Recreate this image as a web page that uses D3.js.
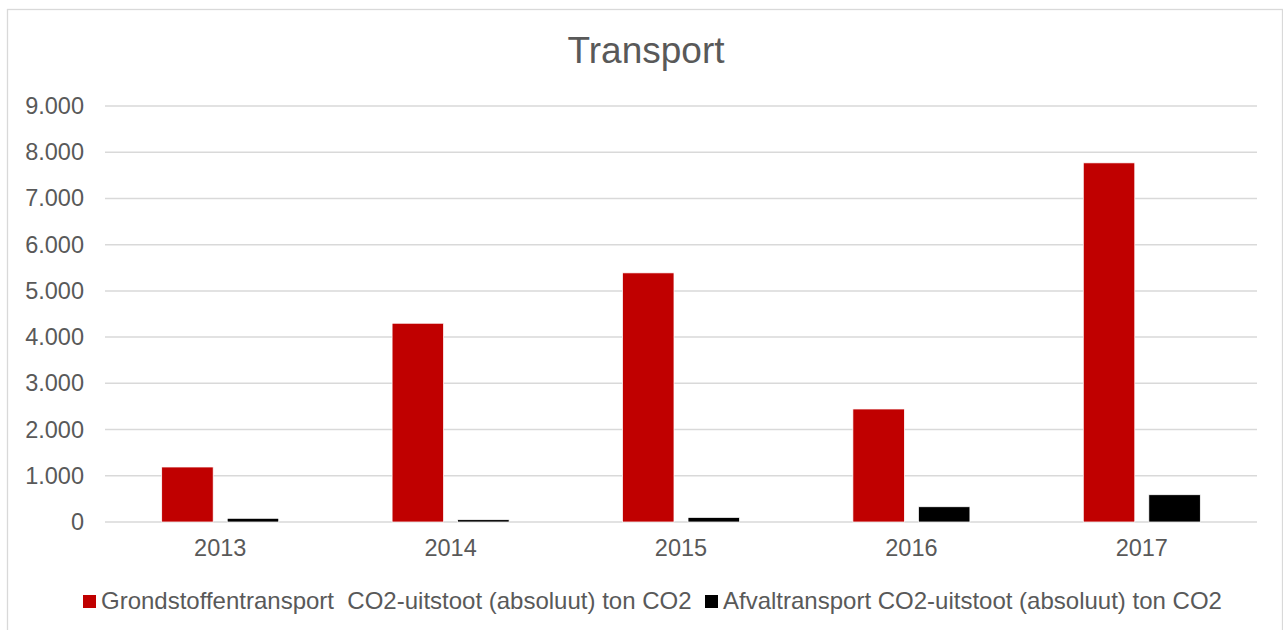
<!DOCTYPE html>
<html>
<head>
<meta charset="utf-8">
<script src="https://cdn.jsdelivr.net/npm/d3@7"></script>
<style>
  body { margin: 0; background: #fff; }
  text { font-family: "Liberation Sans", Arial, sans-serif; fill: #595959; }
</style>
</head>
<body>
<div id="chart"></div>
<script>
// data
var years = ['2013', '2014', '2015', '2016', '2017'];
var grondstoffen = [1190, 4300, 5390, 2445, 7770];
var afval = [80, 50, 100, 330, 590];
var seriesNames = ['Grondstoffentransport  CO2-uitstoot (absoluut) ton CO2',
                   'Afvaltransport CO2-uitstoot (absoluut) ton CO2'];
var seriesColors = ['#c00000', '#000000'];
var yTicks = [0, 1000, 2000, 3000, 4000, 5000, 6000, 7000, 8000, 9000];

var width = 1283,
    height = 630;

var svg = d3.select('#chart')
            .append('svg')
            .attr('width', width)
            .attr('height', height);

// chart border
svg.append('rect')
   .attr('x', 7.5).attr('y', 9.5)
   .attr('width', width - 8).attr('height', height)
   .attr('fill', 'none')
   .attr('stroke', '#d9d9d9')
   .attr('stroke-width', 1.3);

var margin = {left: 105, right: 1257, top: 106, bottom: 522};

var x = d3.scaleBand().domain(years)
          .range([margin.left, margin.right])
          .paddingInner(0.492).paddingOuter(0.246);

var xSub = d3.scaleBand().domain([0, 1])
             .range([0, x.bandwidth()])
             .paddingInner(0.214);

var y = d3.scaleLinear().domain([0, 9000])
          .range([margin.bottom, margin.top]);

var nl = d3.formatLocale({decimal: ',', thousands: '.', grouping: [3], currency: ['€', '']});
var fmt = nl.format(',.0f');

// gridlines
svg.append('g').selectAll('line')
   .data(yTicks)
   .enter()
   .append('line')
   .attr('x1', margin.left).attr('x2', margin.right)
   .attr('y1', function(d) { return y(d); })
   .attr('y2', function(d) { return y(d); })
   .attr('stroke', '#d9d9d9')
   .attr('stroke-width', 1.5);

// y axis labels
var yAxis = d3.axisLeft(y).tickValues(yTicks).tickFormat(fmt).tickSize(0).tickPadding(21);
var gy = svg.append('g').attr('transform', 'translate(' + margin.left + ',0)').call(yAxis);
gy.select('.domain').remove();
gy.selectAll('text').style('font-size', '23.5px').attr('fill', '#595959')
  .style('font-family', '"Liberation Sans", Arial, sans-serif');

// x axis labels
var xAxis = d3.axisBottom(x).tickSize(0).tickPadding(17);
var gx = svg.append('g').attr('transform', 'translate(0,' + margin.bottom + ')').call(xAxis);
gx.select('.domain').remove();
gx.selectAll('text').style('font-size', '23.5px').attr('fill', '#595959')
  .style('font-family', '"Liberation Sans", Arial, sans-serif');

// bars
var rows = years.map(function(yr, i) { return {year: yr, values: [grondstoffen[i], afval[i]]}; });

var groups = svg.append('g').selectAll('g')
   .data(rows)
   .enter()
   .append('g')
   .attr('transform', function(d) { return 'translate(' + x(d.year) + ',0)'; });

groups.selectAll('rect')
   .data(function(d) { return d.values; })
   .enter()
   .append('rect')
   .attr('x', function(d, i) { return xSub(i); })
   .attr('y', function(d) { return y(d); })
   .attr('width', xSub.bandwidth())
   .attr('height', function(d) { return y(0) - y(d); })
   .attr('fill', function(d, i) { return seriesColors[i]; })
   .attr('stroke', '#ffffff')
   .attr('stroke-width', 0.75);

// title
svg.append('text')
   .attr('x', 646).attr('y', 63)
   .attr('text-anchor', 'middle')
   .style('font-size', '37px')
   .text('Transport');

// legend
var legX = [83, 705];
var leg = svg.append('g').selectAll('g')
   .data(seriesNames)
   .enter()
   .append('g')
   .attr('transform', function(d, i) { return 'translate(' + legX[i] + ',595)'; });

leg.append('rect')
   .attr('width', 13).attr('height', 13)
   .attr('fill', function(d, i) { return seriesColors[i]; });

leg.append('text')
   .attr('x', 18).attr('y', 14)
   .style('font-size', '24px')
   .style('white-space', 'pre')
   .attr('xml:space', 'preserve')
   .text(function(d) { return d; });
</script>
</body>
</html>
